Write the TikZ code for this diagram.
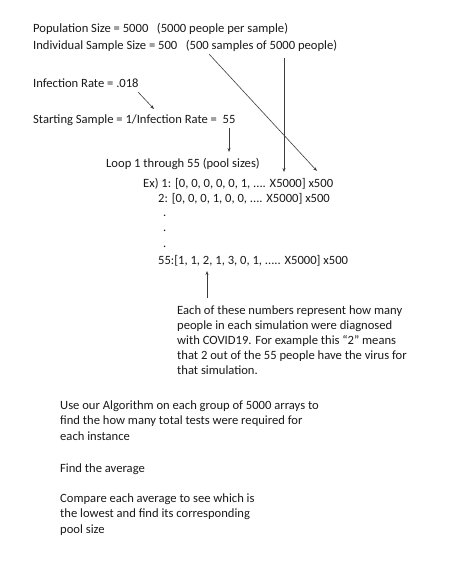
\documentclass[tikz,border=0pt]{standalone}
\usepackage{fontspec}
\setmainfont{Carlito}
\usetikzlibrary{arrows.meta}
\definecolor{txt}{RGB}{25,25,25}
\definecolor{ln}{RGB}{60,60,60}
\begin{document}
\begin{tikzpicture}[x=1pt,y=-1pt,
  lbl/.style={anchor=base west,inner sep=0pt,text=txt,font=\fontsize{12.6}{15}\selectfont},
  para/.style={lbl,align=left},
  conn/.style={draw=ln,line width=0.6pt,-{Stealth[length=4pt,width=3pt]}}]
\useasboundingbox (0,0) rectangle (453,573);
\node[lbl] (pop) at (33,32) {Population Size = 5000\ \ \ (5000 people per sample)};
\node[lbl] (ind) at (33,49) {Individual Sample Size = 500\ \ \ (500 samples of 5000 people)};
\node[lbl] (inf) at (33,87) {Infection Rate = .018};
\node[lbl] (start) at (33,123) {Starting Sample = 1/Infection Rate =\ \ 55};
\node[lbl] (loop) at (106,167) {Loop 1 through 55 (pool sizes)};
\node[lbl] (ex1) at (143,187) {Ex) 1: [0, 0, 0, 0, 0, 1, .... X5000] x500};
\node[lbl] (ex2) at (158,202) {2: [0, 0, 0, 1, 0, 0, .... X5000] x500};
\node[lbl] (d1) at (163,216) {.};
\node[lbl] (d2) at (163,231) {.};
\node[lbl] (d3) at (163,247) {.};
\node[lbl] (ex55) at (158,264) {55:[1, 1, 2, 1, 3, 0, 1, ..... X5000] x500};
% base anchor of a multi-line node is the baseline of its last line
\node[para] (note) at (177,374) {Each of these numbers represent how many\\people in each simulation were diagnosed\\with COVID19. For example this “2” means\\that 2 out of the 55 people have the virus for\\that simulation.};
\node[para,font=\fontsize{12.6}{15.5}\selectfont] (algo) at (60,440) {Use our Algorithm on each group of 5000 arrays to\\find the how many total tests were required for\\each instance};
\node[lbl] (avg) at (60,472) {Find the average};
\node[para,font=\fontsize{12.6}{15.5}\selectfont] (cmp) at (60,533) {Compare each average to see which is\\the lowest and find its corresponding\\pool size};
\coordinate (a1s) at (138,92);
\coordinate (a1e) at (154,109);
\coordinate (a2s) at (229,128);
\coordinate (a2e) at (229,152);
\coordinate (a3s) at (284,58);
\coordinate (a3e) at (284,172);
\coordinate (a4s) at (209,54);
\coordinate (a4e) at (317,171);
\coordinate (a5s) at (207,298);
\coordinate (a5e) at (207,271);
\draw[conn] (a1s) -- (a1e);
\draw[conn] (a2s) -- (a2e);
\draw[conn] (a3s) -- (a3e);
\draw[conn] (a4s) -- (a4e);
\draw[conn] (a5s) -- (a5e);
\end{tikzpicture}
\end{document}
